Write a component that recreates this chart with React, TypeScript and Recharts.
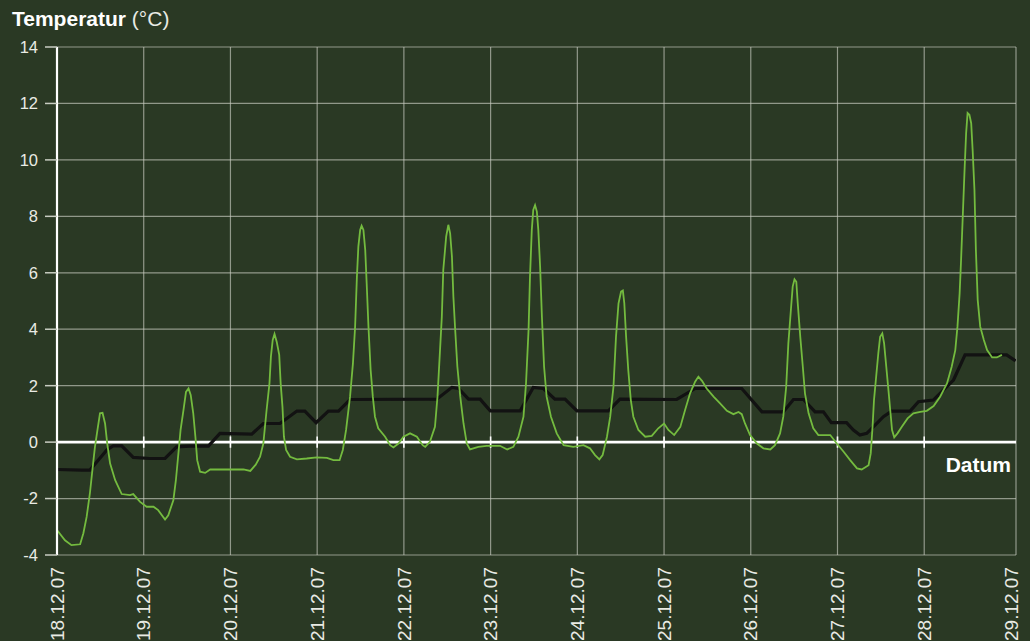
import React from 'react';
import { LineChart, Line, XAxis, YAxis, CartesianGrid, ReferenceLine } from 'recharts';

// Hours since 18.12.07 00:00
const dayHours = [0, 24, 48, 72, 96, 120, 144, 168, 192, 216, 240, 264];
const dayLabels = ['18.12.07', '19.12.07', '20.12.07', '21.12.07', '22.12.07', '23.12.07', '24.12.07', '25.12.07', '26.12.07', '27.12.07', '28.12.07', '29.12.07'];
const tempTicks = [-4, -2, 0, 2, 4, 6, 8, 10, 12, 14];

// Air temperature (green)
const airHours = [
  0, 2.2, 4, 6.4, 7.3, 8.2, 9.1, 9.9, 10.5, 11.2, 11.9, 12.6, 13.3, 13.9, 14.7, 16.1, 17.9, 20.2, 21.1, 23,
  24.8, 26.7, 28, 29.9, 30.8, 32.2, 32.9, 33.6, 34.2, 35, 35.7, 36.4, 37, 37.7, 38.3, 38.8, 39.6, 41, 42.4, 45,
  48, 51.6, 53.5, 55, 56.2, 57.1, 58, 58.8, 59.2, 59.7, 60.2, 60.8, 61.5, 61.9, 62.4, 62.8, 63.4, 64.5, 66.4, 69.1,
  71.9, 74.7, 76.5, 78.2, 79.1, 80, 81.1, 81.9, 82.5, 83, 83.4, 83.9, 84.3, 84.8, 85.3, 85.7, 86.2, 86.8, 87.4, 88,
  88.9, 90.8, 92.2, 93.1, 94.5, 95.9, 97.7, 99.6, 101.2, 101.9, 103.2, 104.6, 105.3, 105.8, 106.5, 106.9, 107.7, 108.3, 108.8, 109.3,
  109.7, 110.2, 110.8, 111.6, 112.5, 113.4, 114.3, 116.6, 118.9, 122.6, 124.6, 126.3, 127.7, 129.1, 129.8, 130.5, 130.9, 131.4, 131.8, 132.3,
  132.8, 133.2, 133.7, 134.2, 134.8, 135.5, 136.7, 138.3, 140.2, 142.9, 145.7, 147.5, 148.9, 150.1, 151, 152.2, 153.1, 154, 154.7, 155.4,
  156.1, 156.6, 157, 157.5, 158.1, 158.8, 159.5, 160.9, 162.8, 164.6, 166.4, 168, 169.2, 170.8, 172.5, 173.8, 175.2, 176.6, 177.5, 178.5,
  179.8, 181.7, 183.5, 185.4, 187.2, 188.6, 189.5, 190.4, 191.8, 193.7, 195.5, 197.4, 198.7, 200.1, 201, 201.8, 202.4, 203.1, 203.6, 204.1,
  204.6, 205, 205.7, 206.4, 207, 208, 209.3, 210.7, 212.6, 214, 215.8, 217.7, 219.5, 221.4, 222.7, 224.6, 225.2, 225.7, 226.1, 226.7,
  227.3, 227.8, 228.4, 228.9, 229.5, 230.1, 230.6, 231.1, 231.7, 232.6, 233.8, 235.4, 237, 238.9, 240.7, 242.6, 244.4, 246.3, 247.6, 248.6,
  249.2, 249.8, 250.2, 250.7, 251.2, 251.6, 252, 252.5, 253, 253.4, 253.9, 254.3, 254.8, 255.5, 256.5, 257.4, 258.8, 260.1, 261.5,
];
const airTemp = [
  -3.12, -3.48, -3.65, -3.62, -3.23, -2.65, -1.82, -0.87, -0.17, 0.43, 1.02, 1.04, 0.66, -0.05, -0.76, -1.35, -1.84, -1.88, -1.84, -2.12,
  -2.29, -2.29, -2.41, -2.74, -2.59, -2.06, -1.35, -0.4, 0.43, 1.13, 1.78, 1.9, 1.67, 1.03, 0.19, -0.64, -1.05, -1.09, -0.97, -0.97,
  -0.97, -0.97, -1.02, -0.8, -0.52, -0.05, 1.13, 2.08, 3.03, 3.62, 3.83, 3.56, 3.09, 2.08, 1.25, 0.19, -0.28, -0.52, -0.61, -0.58,
  -0.54, -0.56, -0.64, -0.64, -0.28, 0.43, 1.61, 2.79, 4.09, 5.86, 6.93, 7.52, 7.67, 7.52, 6.81, 5.63, 4.09, 2.55, 1.61, 0.9,
  0.49, 0.19, -0.11, -0.19, -0.05, 0.19, 0.31, 0.19, -0.11, -0.17, 0.01, 0.54, 1.61, 2.79, 4.44, 6.1, 7.28, 7.7, 7.4, 6.57,
  5.15, 3.97, 2.67, 1.61, 0.66, -0.05, -0.26, -0.17, -0.13, -0.13, -0.26, -0.17, 0.19, 0.9, 2.08, 3.97, 5.86, 7.52, 8.23, 8.4,
  8.17, 7.52, 6.22, 4.44, 2.67, 1.61, 0.9, 0.31, -0.11, -0.17, -0.11, -0.22, -0.46, -0.61, -0.46, 0.19, 0.9, 1.96, 3.73, 4.92,
  5.33, 5.37, 4.92, 3.73, 2.55, 1.49, 0.9, 0.43, 0.19, 0.22, 0.49, 0.66, 0.43, 0.25, 0.54, 1.13, 1.73, 2.14, 2.32, 2.17,
  1.9, 1.61, 1.37, 1.11, 0.99, 1.07, 0.99, 0.66, 0.25, -0.05, -0.22, -0.26, -0.11, 0.31, 0.9, 1.96, 3.5, 4.68, 5.51, 5.77,
  5.68, 4.92, 3.73, 2.67, 1.73, 1.02, 0.49, 0.25, 0.25, 0.25, -0.05, -0.34, -0.64, -0.93, -0.97, -0.82, -0.4, 0.54, 1.49, 2.32,
  3.15, 3.73, 3.85, 3.5, 2.67, 1.84, 1.13, 0.43, 0.17, 0.31, 0.54, 0.84, 1.02, 1.07, 1.11, 1.28, 1.61, 2.08, 2.67, 3.26,
  4.09, 5.27, 6.45, 8.11, 9.76, 10.95, 11.66, 11.6, 11.3, 10.35, 8.94, 6.81, 5.04, 4.09, 3.62, 3.26, 3.0, 3.0, 3.09,
];

// Ground temperature (black)
const soilHours = [
  0, 6.8, 9.1, 11.4, 13.8, 15.6, 17.9, 21.1, 25.7, 29.9, 33.1, 36.8, 41.9, 45.1, 53.9, 57.1, 61.7, 66.4, 68.6, 71.7,
  75.1, 77.9, 81.1, 105.1, 109.3, 111.1, 113.9, 117.1, 119.9, 128.2, 131.8, 134.6, 137.8, 140.6, 143.9, 152.6, 155.8, 171.5, 176.6, 189.5,
  195.1, 201, 203.8, 206.6, 209.8, 212.1, 214.3, 218.5, 220.4, 222.2, 224.1, 226.4, 228.7, 231, 236.1, 238.4, 242.5, 245.3, 248.1, 251.3,
  262.8, 265.3,
];
const soilTemp = [
  -0.97, -0.99, -0.99, -0.64, -0.28, -0.13, -0.13, -0.54, -0.58, -0.58, -0.17, -0.14, -0.14, 0.31, 0.28, 0.66, 0.66, 1.1, 1.1, 0.69,
  1.1, 1.1, 1.51, 1.52, 1.94, 1.9, 1.52, 1.52, 1.11, 1.11, 1.94, 1.9, 1.52, 1.52, 1.11, 1.11, 1.52, 1.51, 1.9, 1.9,
  1.07, 1.07, 1.51, 1.51, 1.07, 1.07, 0.69, 0.69, 0.43, 0.25, 0.31, 0.6, 0.9, 1.1, 1.1, 1.43, 1.49, 1.84, 2.2, 3.09,
  3.09, 2.88,
];

const airData = airHours.map((h, i) => ({ h, t: airTemp[i] }));
const soilData = soilHours.map((h, i) => ({ h, t: soilTemp[i] }));

const X_MAX = 265.4;
const gridHours = [...dayHours.slice(0, 11), X_MAX];

const FONT = '"Liberation Sans", Arial, Helvetica, sans-serif';
const BG = '#2a3924';
const TXT = '#e9ebe4';

const XTick = (props: any) => {
  const { x, y, payload } = props;
  const idx = dayHours.indexOf(payload.value);
  const label = idx >= 0 ? dayLabels[idx] : '';
  const ty = y + 12;
  return (
    <text
      x={x}
      y={ty}
      transform={`rotate(-90 ${x} ${ty})`}
      textAnchor="end"
      dy="0.35em"
      fill={TXT}
      fontSize={19}
      fontFamily={FONT}
    >
      {label}
    </text>
  );
};

export default function App() {
  return (
    <div style={{ position: 'absolute', left: 0, top: 0, width: 1030, height: 641, background: BG, overflow: 'hidden' }}>
      <LineChart width={1030} height={641} margin={{ top: 47, right: 14, left: 0, bottom: 0 }}>
        <CartesianGrid
          stroke="#c9cdc2"
          strokeOpacity={0.65}
          strokeWidth={1.2}
          verticalValues={gridHours}
          horizontalValues={tempTicks}
        />
        <XAxis
          type="number"
          dataKey="h"
          domain={[0, X_MAX]}
          ticks={dayHours}
          allowDataOverflow
          height={86}
          axisLine={false}
          tickLine={false}
          tickSize={0}
          tickMargin={0}
          tick={<XTick />}
          interval={0}
        />
        <YAxis
          type="number"
          dataKey="t"
          domain={[-4, 14]}
          ticks={tempTicks}
          allowDataOverflow
          width={57}
          interval={0}
          axisLine={{ stroke: '#ffffff', strokeWidth: 2.2 }}
          tickLine={{ stroke: '#c9cdc2', strokeWidth: 1.5 }}
          tickSize={12}
          tickMargin={7}
          tick={{ fill: TXT, fontSize: 16.5, fontFamily: FONT }}
        />
        <ReferenceLine y={0} stroke="#ffffff" strokeWidth={2.6} ifOverflow="extendDomain" />
        {dayHours.slice(1, 11).map((h) => (
          <ReferenceLine
            key={h}
            segment={[{ x: h, y: -0.2 }, { x: h, y: 0.2 }]}
            stroke="#ffffff"
            strokeWidth={1.6}
          />
        ))}
        <Line
          data={soilData}
          dataKey="t"
          type="linear"
          stroke="#121212"
          strokeWidth={3.2}
          dot={false}
          isAnimationActive={false}
        />
        <Line
          data={airData}
          dataKey="t"
          type="linear"
          stroke="#74bb3f"
          strokeWidth={1.8}
          dot={false}
          isAnimationActive={false}
        />
      </LineChart>
      <svg width={1030} height={641} style={{ position: 'absolute', left: 0, top: 0, pointerEvents: 'none' }}>
        <text x={12} y={26} fontFamily={FONT} fontSize={21} fill="#ffffff">
          <tspan fontWeight="bold">Temperatur</tspan>
          <tspan fill={TXT}> (°C)</tspan>
        </text>
        <text x={1011} y={472} fontFamily={FONT} fontSize={21} fontWeight="bold" fill="#ffffff" textAnchor="end">
          Datum
        </text>
      </svg>
    </div>
  );
}
